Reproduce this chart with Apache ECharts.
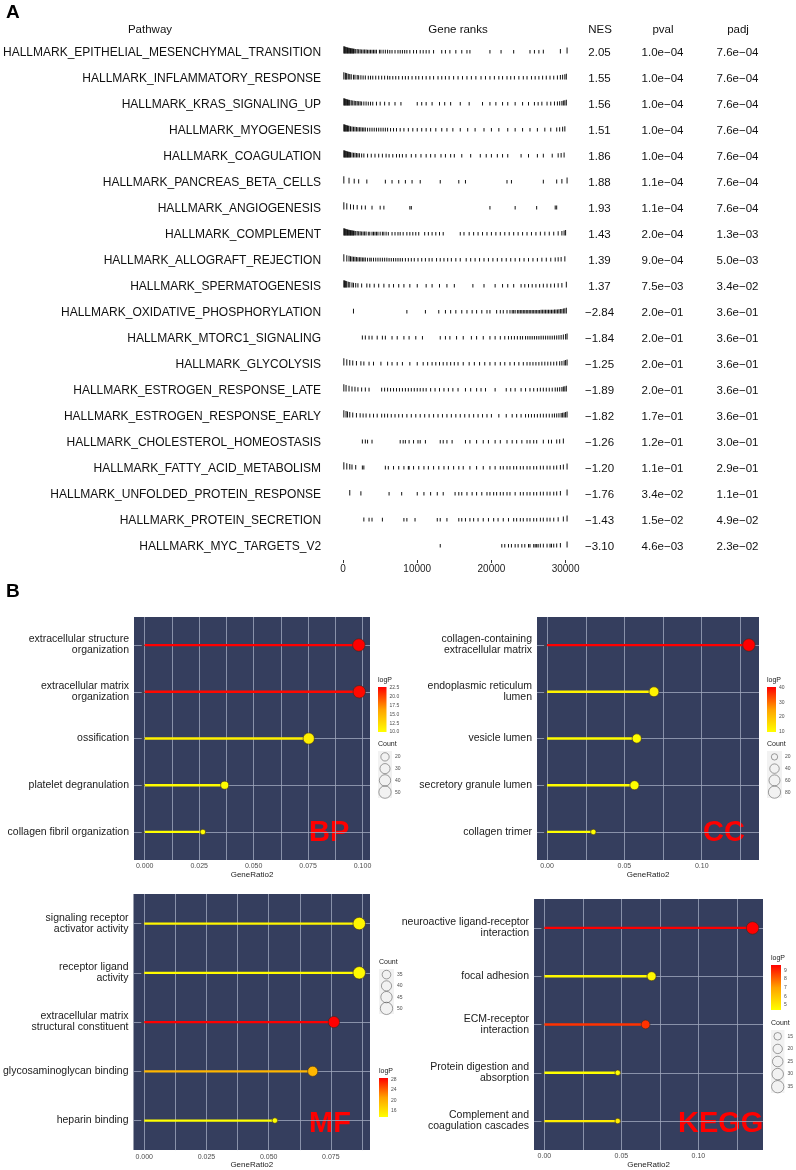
<!DOCTYPE html>
<html>
<head>
<meta charset="utf-8">
<script src="https://cdn.jsdelivr.net/npm/echarts@6/dist/echarts.min.js"></script>
<style>
html, body { margin: 0; padding: 0; background: #fff; }
#chart { width: 796px; height: 1170px; }
</style>
</head>
<body>
<div id="chart"></div>
<script>
// ---- panel A : GSEA table ----
const pathways = [
  'HALLMARK_EPITHELIAL_MESENCHYMAL_TRANSITION', 'HALLMARK_INFLAMMATORY_RESPONSE', 'HALLMARK_KRAS_SIGNALING_UP',
  'HALLMARK_MYOGENESIS', 'HALLMARK_COAGULATION', 'HALLMARK_PANCREAS_BETA_CELLS', 'HALLMARK_ANGIOGENESIS',
  'HALLMARK_COMPLEMENT', 'HALLMARK_ALLOGRAFT_REJECTION', 'HALLMARK_SPERMATOGENESIS',
  'HALLMARK_OXIDATIVE_PHOSPHORYLATION', 'HALLMARK_MTORC1_SIGNALING', 'HALLMARK_GLYCOLYSIS',
  'HALLMARK_ESTROGEN_RESPONSE_LATE', 'HALLMARK_ESTROGEN_RESPONSE_EARLY', 'HALLMARK_CHOLESTEROL_HOMEOSTASIS',
  'HALLMARK_FATTY_ACID_METABOLISM', 'HALLMARK_UNFOLDED_PROTEIN_RESPONSE', 'HALLMARK_PROTEIN_SECRETION',
  'HALLMARK_MYC_TARGETS_V2'
]
const nes = [2.05, 1.55, 1.56, 1.51, 1.86, 1.88, 1.93, 1.43, 1.39, 1.37,
  -2.84, -1.84, -1.25, -1.89, -1.82, -1.26, -1.20, -1.76, -1.43, -3.10]
const pval = [1.0e-4, 1.0e-4, 1.0e-4, 1.0e-4, 1.0e-4, 1.1e-4, 1.1e-4, 2.0e-4, 9.0e-4, 7.5e-3,
  2.0e-1, 2.0e-1, 2.0e-1, 2.0e-1, 1.7e-1, 1.2e-1, 1.1e-1, 3.4e-2, 1.5e-2, 4.6e-3]
const padj = [7.6e-4, 7.6e-4, 7.6e-4, 7.6e-4, 7.6e-4, 7.6e-4, 7.6e-4, 1.3e-3, 5.0e-3, 3.4e-2,
  3.6e-1, 3.6e-1, 3.6e-1, 3.6e-1, 3.6e-1, 3.0e-1, 2.9e-1, 1.1e-1, 4.9e-2, 2.3e-2]
const rankTicks = [0, 10000, 20000, 30000]
// gene positions in the ranked list, in hundreds of ranks, one list per pathway
const hitRanks = [
  [1,2,3,4,5,6,7,8,9,10,11,12,13,14,15,17,19,21,23,25,27,29,31,33,35,37,39,41,43,45,49,51,54,57,60,63,66,70,74,77,80,83,86,90,95,99,104,108,112,116,122,133,138,144,152,160,167,171,198,213,230,252,258,264,270,293,302],
  [1,3,4,5,7,9,11,14,16,19,21,24,27,30,34,37,40,44,48,52,56,60,63,67,71,75,80,84,88,93,98,102,107,112,117,122,128,133,138,143,149,155,161,167,173,179,186,192,198,204,210,215,221,226,231,237,243,248,254,259,264,269,274,279,284,289,293,296,299,301],
  [1,2,3,4,5,6,7,8,9,11,13,15,17,19,21,23,25,28,31,34,37,40,45,50,56,62,70,78,100,106,112,120,130,137,145,158,170,188,198,206,215,222,232,242,250,258,263,268,275,280,285,289,292,295,297,299,301],
  [1,2,3,4,5,6,7,8,10,12,14,16,18,20,22,24,26,28,30,33,36,39,42,45,48,51,54,57,60,64,68,72,77,82,88,94,100,106,112,118,125,133,140,148,158,168,178,190,200,210,222,232,242,252,262,272,280,288,292,296,299],
  [1,2,3,4,5,6,7,8,9,10,12,14,16,18,20,22,25,28,33,38,43,48,53,58,62,67,72,76,80,85,92,98,105,112,118,124,132,138,145,150,160,172,185,193,200,208,215,222,240,250,262,270,282,290,294,298],
  [1,8,15,21,32,57,66,75,84,93,104,131,156,165,221,227,270,288,295,302],
  [1,5,10,14,19,25,30,39,50,55,90,92,198,232,261,286,288],
  [1,2,3,4,5,6,7,8,9,10,11,12,13,14,15,17,19,21,23,25,27,29,31,34,36,39,41,43,45,47,50,53,55,58,61,66,70,74,77,81,86,90,94,98,102,110,115,120,125,130,135,158,163,170,176,182,188,194,200,206,212,218,224,230,236,242,248,254,260,266,272,278,284,290,295,298,300],
  [1,5,8,10,12,14,16,18,20,22,24,26,28,30,33,36,38,41,44,47,50,53,56,59,62,65,68,71,74,77,80,84,88,92,96,101,106,111,116,120,126,131,136,141,146,152,158,166,172,178,184,190,196,202,208,214,220,226,232,238,244,250,256,262,268,274,280,286,290,294,299],
  [1,2,3,4,5,7,9,12,14,17,20,25,32,36,42,48,55,62,68,75,82,90,100,112,120,130,140,150,175,190,205,215,222,230,240,245,250,255,260,265,270,275,280,285,290,295,301],
  [14,86,111,129,138,145,152,160,167,174,180,187,194,198,207,212,216,221,225,228,230,232,235,237,239,241,243,245,247,249,251,253,255,257,259,261,263,265,267,269,271,273,275,277,279,281,283,285,287,289,291,293,295,297,299,301],
  [26,30,35,39,46,53,57,66,73,82,89,98,107,131,138,144,153,162,173,180,189,198,205,212,218,223,227,231,235,239,242,246,249,252,255,258,261,264,267,270,273,276,279,282,285,288,291,294,297,300,302],
  [1,5,9,13,18,24,28,35,41,51,60,66,73,80,90,100,108,114,120,125,130,135,140,145,150,155,162,170,177,184,191,198,205,212,218,225,231,237,243,248,252,256,260,264,268,272,276,280,284,288,292,295,298,300,302],
  [1,4,8,12,16,20,25,30,35,52,56,60,64,68,72,76,80,84,88,92,96,100,104,108,112,118,124,130,136,142,148,155,165,172,180,186,192,205,220,226,232,240,246,252,257,262,266,270,274,278,282,286,289,292,295,297,299,301],
  [1,4,6,9,13,18,23,27,31,36,41,46,52,56,60,65,70,75,80,86,92,98,104,110,116,122,128,134,140,146,152,158,164,170,176,182,188,194,200,210,220,228,234,240,246,250,254,258,262,266,270,274,278,282,285,288,291,294,296,298,300,302],
  [26,30,33,39,77,81,84,89,95,101,104,111,131,135,140,147,165,171,180,189,196,205,212,221,228,234,241,248,252,257,261,270,277,281,288,292,297],
  [1,5,9,12,17,26,28,57,61,68,75,82,88,89,95,102,109,115,122,129,136,142,149,156,162,171,180,189,198,205,212,216,221,225,230,234,239,243,248,252,257,261,266,270,275,279,284,288,293,297,302],
  [9,24,62,79,100,109,118,127,135,151,156,160,167,174,180,187,194,198,203,207,212,216,221,225,232,239,243,248,252,257,261,266,270,275,279,284,288,293,302],
  [28,35,39,53,82,86,97,127,131,140,156,160,165,171,176,182,189,196,203,209,216,223,230,234,239,243,248,252,257,261,266,270,275,279,284,290,297,302],
  [131,214,218,223,227,232,236,241,245,250,252,257,259,261,263,266,270,275,279,281,284,288,293,302]
]

// ---- panel B : enrichment lollipops ----
const bpTerms = ['extracellular structure\norganization', 'extracellular matrix\norganization', 'ossification', 'platelet degranulation', 'collagen fibril organization']
const bpRatio = [0.0983, 0.0985, 0.0753, 0.0367, 0.0267]
const bpCount = [51, 51, 39, 19, 14]
const bpLogP = [22.8, 22.5, 11.0, 10.2, 10.0]
const bpColorBreaks = [10, 12.5, 15, 17.5, 20, 22.5]
const bpCountBreaks = [20, 30, 40, 50]

const ccTerms = ['collagen-containing\nextracellular matrix', 'endoplasmic reticulum\nlumen', 'vesicle lumen', 'secretory granule lumen', 'collagen trimer']
const ccRatio = [0.1305, 0.0691, 0.0580, 0.0565, 0.0299]
const ccCount = [85, 45, 38, 37, 19]
const ccLogP = [40.2, 11.8, 10.4, 10.2, 9.9]
const ccColorBreaks = [10, 20, 30, 40]
const ccCountBreaks = [20, 40, 60, 80]

const mfTerms = ['signaling receptor\nactivator activity', 'receptor ligand\nactivity', 'extracellular matrix\nstructural constituent', 'glycosaminoglycan binding', 'heparin binding']
const mfRatio = [0.0864, 0.0864, 0.0762, 0.0677, 0.0525]
const mfCount = [51, 51, 45, 40, 31]
const mfLogP = [14.3, 14.0, 28.6, 19.5, 13.6]
const mfColorBreaks = [16, 20, 24, 28]
const mfCountBreaks = [35, 40, 45, 50]

const keggTerms = ['neuroactive ligand-receptor\ninteraction', 'focal adhesion', 'ECM-receptor\ninteraction', 'Protein digestion and\nabsorption', 'Complement and\ncoagulation cascades']
const keggRatio = [0.1352, 0.0696, 0.0657, 0.0476, 0.0476]
const keggCount = [36, 19, 18, 13, 13]
const keggLogP = [9.6, 4.6, 8.8, 4.4, 4.9]
const keggColorBreaks = [5, 6, 7, 8, 9]
const keggCountBreaks = [15, 20, 25, 30, 35]

const FONT = '"Liberation Sans", Arial, Helvetica, sans-serif'
const PANEL_BG = '#353E5E'
const GRID_C = '#A0A7BC'
const RAMP = ['#FFFF00', '#FFA200', '#FF0000']

const chart = echarts.init(document.getElementById('chart'))
const grid = [], xAxis = [], yAxis = [], series = [], visualMap = [], graphic = []

function hidden (extra) {
  return Object.assign({
    axisLine: { show: false }, axisTick: { show: false }, axisLabel: { show: false }, splitLine: { show: false }
  }, extra)
}
function addGrid (g) { grid.push(g); return grid.length - 1 }
function fmtNES (v) { return (v < 0 ? '\u2212' : '') + Math.abs(v).toFixed(2) }
function fmtE (v) {
  const parts = v.toExponential(1).split('e')
  const n = parseInt(parts[1])
  return parts[0] + 'e' + (n < 0 ? '\u2212' : '+') + String(Math.abs(n)).padStart(2, '0')
}

// gene rank barcode
const gRank = addGrid({ left: 343, top: 40, width: 230, height: 520 })
xAxis.push({
  gridIndex: gRank, type: 'value', min: 0, max: 31000, position: 'bottom',
  axisLine: { show: false }, splitLine: { show: false },
  axisTick: { show: true, length: 3, customValues: rankTicks, lineStyle: { color: '#333' } },
  axisLabel: { customValues: rankTicks, formatter: v => String(v), fontSize: 10, color: '#222', margin: 4, fontFamily: FONT }
})
xAxis.push(hidden({
  gridIndex: gRank, type: 'value', min: 0, max: 31000, position: 'top',
  name: 'Gene ranks', nameLocation: 'middle', nameGap: 4,
  nameTextStyle: { fontSize: 11.5, color: '#111', fontFamily: FONT }
}))
yAxis.push({
  gridIndex: gRank, type: 'category', inverse: true, data: pathways,
  axisLine: { show: false }, axisTick: { show: false }, splitLine: { show: false },
  axisLabel: { interval: 0, fontSize: 12, color: '#111', margin: 22, fontFamily: FONT }
})
const tickData = []
hitRanks.forEach((arr, row) => arr.forEach(u => tickData.push([u * 100, row])))
series.push({
  type: 'custom', xAxisIndex: 0, yAxisIndex: 0, data: tickData, encode: { x: 0, y: 1 }, silent: true,
  renderItem: function (params, api) {
    const r = api.value(0)
    const p = api.coord([r, api.value(1)])
    const u = r / 100
    const h = 3.6 + 4 * Math.exp(-u / 12) + 3.5 * Math.exp(-(305 - u) / 8)
    return { type: 'rect', shape: { x: p[0] - 0.5, y: p[1] + 0.5 - h, width: 1, height: h }, style: { fill: '#111' } }
  }
})

// NES / pval / padj columns
const cols = [
  { name: 'NES', x: 600, vals: nes.map(fmtNES) },
  { name: 'pval', x: 663, vals: pval.map(fmtE) },
  { name: 'padj', x: 738, vals: padj.map(fmtE) }
]
cols.forEach(c => {
  const g = addGrid({ left: c.x - 0.5, top: 40, width: 1, height: 520 })
  xAxis.push(hidden({
    gridIndex: g, type: 'value', position: 'top', name: c.name, nameLocation: 'middle', nameGap: 4,
    nameTextStyle: { fontSize: 11.5, color: '#111', fontFamily: FONT }
  }))
  yAxis.push({
    gridIndex: g, type: 'category', inverse: true, data: c.vals,
    axisLine: { show: false }, axisTick: { show: false }, splitLine: { show: false },
    axisLabel: { interval: 0, align: 'center', margin: 0, fontSize: 11.5, color: '#111', fontFamily: FONT }
  })
})

// lollipop panels
const panels = [
  { terms: bpTerms, ratio: bpRatio, count: bpCount, logP: bpLogP, colorBreaks: bpColorBreaks, countBreaks: bpCountBreaks,
    major: [0, 0.025, 0.05, 0.075, 0.1], step: 0.025, digits: 3, cDigits: 1,
    box: [134, 617, 236, 243], bar: [378, 687, 8.5, 45], cnt: [378, 751, 14, 47] },
  { terms: ccTerms, ratio: ccRatio, count: ccCount, logP: ccLogP, colorBreaks: ccColorBreaks, countBreaks: ccCountBreaks,
    major: [0, 0.05, 0.1], step: 0.05, digits: 2, cDigits: 0,
    box: [537, 617, 222, 243], bar: [767, 687, 9, 45], cnt: [767, 751, 15, 47] },
  { terms: mfTerms, ratio: mfRatio, count: mfCount, logP: mfLogP, colorBreaks: mfColorBreaks, countBreaks: mfCountBreaks,
    major: [0, 0.025, 0.05, 0.075], step: 0.025, digits: 3, cDigits: 0,
    box: [133, 894, 237, 258], bar: [379, 1078, 9, 39], cnt: [379, 969, 15, 45] },
  { terms: keggTerms, ratio: keggRatio, count: keggCount, logP: keggLogP, colorBreaks: keggColorBreaks, countBreaks: keggCountBreaks,
    major: [0, 0.05, 0.1], step: 0.05, digits: 2, cDigits: 0,
    box: [534, 899, 229, 251], bar: [771, 965, 10, 45], cnt: [771, 1030, 16, 63] }
]

panels.forEach(p => {
  const M = Math.max(...p.ratio)
  const xmin = -0.05 * M, xmax = 1.05 * M
  const lmin = Math.min(...p.logP), lmax = Math.max(...p.logP)
  const cmin = Math.min(...p.count), cmax = Math.max(...p.count)
  const sizeFn = c => 5.5 + 7 * Math.sqrt(Math.max(0, (c - cmin) / (cmax - cmin)))
  const gridVals = []
  for (let k = 0; k * p.step / 2 <= xmax; k++) gridVals.push(+(k * p.step / 2).toFixed(6))
  const rows = p.terms.map((t, i) => i + 1)

  const g = addGrid({ left: p.box[0], top: p.box[1], width: p.box[2], height: p.box[3], show: true, backgroundColor: PANEL_BG, borderWidth: 0 })
  const xi = xAxis.length
  xAxis.push({
    gridIndex: g, type: 'value', min: xmin, max: xmax,
    name: 'GeneRatio2', nameLocation: 'middle', nameGap: 9,
    nameTextStyle: { fontSize: 8, color: '#222', fontFamily: FONT },
    axisLine: { show: false },
    axisTick: { show: false, customValues: gridVals },
    axisLabel: { customValues: p.major, formatter: v => v.toFixed(p.digits), fontSize: 7, color: '#4d4d4d', margin: 3, fontFamily: FONT },
    splitLine: { show: true, lineStyle: { color: GRID_C, width: 0.8 } }
  })
  const yi = yAxis.length
  yAxis.push({
    gridIndex: g, type: 'value', min: 0.4, max: 5.6, inverse: true,
    axisLine: { show: false },
    axisTick: { show: true, length: 3, customValues: rows, lineStyle: { color: '#444' } },
    axisLabel: { customValues: rows, formatter: v => p.terms[Math.round(v) - 1], fontSize: 10.5, lineHeight: 11, color: '#1a1a1a', margin: 5, align: 'right', fontFamily: FONT },
    splitLine: { show: true, lineStyle: { color: GRID_C, width: 0.8 } }
  })
  const sSeg = series.length
  series.push({
    type: 'custom', xAxisIndex: xi, yAxisIndex: yi, encode: { x: 0, y: 1 }, z: 3,
    data: p.ratio.map((r, i) => [r, i + 1, p.logP[i]]),
    renderItem: function (params, api) {
      const a = api.coord([0, api.value(1)])
      const b = api.coord([api.value(0), api.value(1)])
      return { type: 'line', shape: { x1: a[0], y1: a[1], x2: b[0], y2: b[1] }, style: { stroke: api.visual('color'), lineWidth: 2.3 } }
    }
  })
  series.push({
    type: 'scatter', xAxisIndex: xi, yAxisIndex: yi, z: 4,
    data: p.ratio.map((r, i) => [r, i + 1, p.logP[i], p.count[i]]),
    symbolSize: d => sizeFn(d[3]),
    itemStyle: { borderColor: '#3a2a20', borderWidth: 0.6, opacity: 1 }
  })
  visualMap.push({
    type: 'continuous', show: false, seriesIndex: [sSeg, sSeg + 1], dimension: 2,
    min: lmin, max: lmax, inRange: { color: RAMP }
  })

  // colour bar legend
  const lg = addGrid({ left: p.bar[0], top: p.bar[1], width: p.bar[2], height: p.bar[3] })
  const lx = xAxis.length
  xAxis.push(hidden({ gridIndex: lg, type: 'value', min: 0, max: 1 }))
  const ly = yAxis.length
  yAxis.push({
    gridIndex: lg, type: 'value', min: lmin, max: lmax, position: 'right',
    axisLine: { show: false }, axisTick: { show: false }, splitLine: { show: false },
    axisLabel: { customValues: p.colorBreaks, formatter: v => v.toFixed(p.cDigits), fontSize: 5, color: '#4d4d4d', margin: 3, fontFamily: FONT }
  })
  yAxis.push(hidden({
    gridIndex: lg, type: 'value', min: lmin, max: lmax, position: 'left',
    name: 'logP', nameLocation: 'end', nameGap: 3,
    nameTextStyle: { fontSize: 7, color: '#222', align: 'left', fontFamily: FONT }
  }))
  series.push({
    type: 'custom', xAxisIndex: lx, yAxisIndex: ly, silent: true, data: [[0, lmin]], encode: { x: 0, y: 1 },
    renderItem: function (params, api) {
      const a = api.coord([0, lmin]), b = api.coord([1, lmax])
      return {
        type: 'rect', shape: { x: a[0], y: b[1], width: b[0] - a[0], height: a[1] - b[1] },
        style: { fill: new echarts.graphic.LinearGradient(0, 1, 0, 0, RAMP.map((c, i) => ({ offset: i / (RAMP.length - 1), color: c }))) }
      }
    }
  })

  // count (size) legend
  const cg = addGrid({ left: p.cnt[0], top: p.cnt[1], width: p.cnt[2], height: p.cnt[3], show: true, backgroundColor: '#F2F2F2', borderWidth: 0 })
  const cx = xAxis.length
  xAxis.push(hidden({ gridIndex: cg, type: 'value', min: 0, max: 1 }))
  const cy = yAxis.length
  yAxis.push({
    gridIndex: cg, type: 'category', inverse: true, position: 'right', data: p.countBreaks.map(String),
    axisLine: { show: false }, axisTick: { show: false }, splitLine: { show: false },
    axisLabel: { interval: 0, fontSize: 5, color: '#4d4d4d', margin: 3, fontFamily: FONT }
  })
  yAxis.push(hidden({
    gridIndex: cg, type: 'value', position: 'left', name: 'Count', nameLocation: 'end', nameGap: 3,
    nameTextStyle: { fontSize: 7, color: '#222', align: 'left', fontFamily: FONT }
  }))
  series.push({
    type: 'scatter', xAxisIndex: cx, yAxisIndex: cy, silent: true,
    data: p.countBreaks.map((c, i) => [0.5, i, c]),
    symbolSize: d => sizeFn(d[2]),
    itemStyle: { color: 'rgba(255,255,255,0)', borderColor: '#555', borderWidth: 0.7 }
  })
})

// panel letters and ontology tags
const tag = (text, x, y, size, color, align) => ({
  type: 'text', x: x, y: y, silent: true,
  style: { text: text, fill: color, font: 'bold ' + size + 'px ' + FONT, align: align || 'left', verticalAlign: 'middle' }
})
graphic.push(tag('A', 6, 13, 19, '#000'))
graphic.push(tag('B', 6, 592, 19, '#000'))
graphic.push({ type: 'text', x: 150, y: 30, silent: true,
  style: { text: 'Pathway', fill: '#111', font: '11.5px ' + FONT, align: 'center', verticalAlign: 'middle' } })
graphic.push(tag('BP', 309, 833, 29, '#FF0000'))
graphic.push(tag('CC', 703, 833, 29, '#FF0000'))
graphic.push(tag('MF', 309, 1124, 29, '#FF0000'))
graphic.push(tag('KEGG', 678, 1124, 29, '#FF0000'))

chart.setOption({
  animation: false,
  backgroundColor: '#fff',
  textStyle: { fontFamily: FONT },
  grid: grid,
  xAxis: xAxis,
  yAxis: yAxis,
  visualMap: visualMap,
  series: series,
  graphic: graphic
})
</script>
</body>
</html>
